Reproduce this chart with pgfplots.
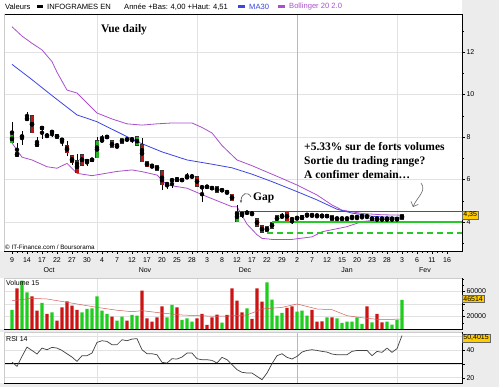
\documentclass[border=0pt]{standalone}
\usepackage{pgfplots}
\pgfplotsset{compat=1.18}
\usepackage{pgfplotstable}
\usetikzlibrary{arrows.meta}
\usepackage{fontspec}
\setmainfont{Liberation Sans}
\newfontfamily\annot{Liberation Serif}
\definecolor{cgreen}{RGB}{40,175,40}
\definecolor{cred}{RGB}{190,20,20}
\definecolor{vgreen}{RGB}{30,205,30}
\definecolor{vred}{RGB}{205,20,20}
\definecolor{mablue}{RGB}{60,70,225}
\definecolor{bollp}{RGB}{170,80,205}
\definecolor{bggrey}{RGB}{236,236,236}
\definecolor{gridc}{RGB}{226,226,226}
\definecolor{boxy}{RGB}{255,204,0}
\definecolor{hred}{RGB}{215,30,30}
\definecolor{hgreen}{RGB}{40,200,40}
\definecolor{vmac}{RGB}{215,90,90}

\pgfplotstableread{
i o h l c
0 7.73 8.72 7.70 8.09
2 8.00 8.28 7.62 8.05
5 7.55 8.00 7.53 7.73
7 8.04 8.18 7.98 8.06
9 7.94 8.15 7.92 8.13
16 6.85 7.03 6.83 7.00
17 7.03 8.01 7.00 7.81
18 7.83 8.10 7.80 7.84
22 7.70 7.96 7.68 7.94
24 7.89 8.01 7.70 7.90
25 7.62 8.02 7.60 8.00
31 5.78 5.90 5.55 5.79
32 5.96 6.00 5.58 5.98
34 5.97 6.05 5.90 5.98
35 6.05 6.29 6.03 6.16
36 6.13 6.25 6.05 6.14
42 5.49 5.55 5.45 5.50
45 4.01 4.80 3.98 4.48
47 4.43 4.50 4.38 4.44
51 3.54 3.80 3.50 3.78
52 3.72 3.99 3.70 3.97
53 4.06 4.30 4.04 4.28
54 4.25 4.40 4.19 4.26
57 4.18 4.22 4.10 4.20
58 4.14 4.30 4.12 4.28
65 4.14 4.22 4.13 4.15
66 4.14 4.22 4.13 4.15
67 4.14 4.22 4.13 4.15
71 4.24 4.32 4.15 4.30
78 4.13 4.36 4.10 4.35
}\candG

\pgfplotstableread{
i o h l c
1 7.25 7.72 7.08 7.10
3 8.88 9.18 8.80 8.82
4 9.00 9.02 8.18 8.20
6 8.47 8.50 7.90 8.38
8 8.26 8.27 8.00 8.22
10 7.94 7.96 7.58 7.80
11 7.58 7.83 7.10 7.26
12 7.10 7.12 6.68 6.79
13 6.87 7.18 6.30 6.32
14 7.18 7.20 6.66 6.68
15 6.95 6.97 6.64 6.79
19 8.02 8.05 7.96 7.98
20 7.81 7.83 7.48 7.50
21 7.56 7.70 7.53 7.55
23 7.94 7.96 7.81 7.83
26 7.62 7.94 6.82 6.84
27 6.84 6.86 6.58 6.60
28 6.65 6.75 6.55 6.58
29 6.64 6.66 6.43 6.45
30 6.41 6.43 5.50 5.75
33 6.08 6.10 5.88 5.90
37 6.13 6.15 5.67 5.69
38 5.64 5.66 4.96 5.63
39 5.68 5.70 5.60 5.64
40 5.62 5.64 5.55 5.57
41 5.66 5.68 5.38 5.40
43 5.42 5.45 5.30 5.40
44 5.30 5.32 4.98 5.00
46 4.48 4.50 4.18 4.28
48 4.42 4.44 4.30 4.38
49 4.14 4.16 3.79 3.81
50 3.81 3.83 3.51 3.53
55 4.48 4.50 4.04 4.06
56 4.14 4.16 3.90 4.13
59 4.34 4.35 4.25 4.33
60 4.33 4.34 4.24 4.32
61 4.31 4.32 4.22 4.30
62 4.30 4.31 4.22 4.29
63 4.30 4.31 4.25 4.26
64 4.28 4.29 4.08 4.09
68 4.24 4.25 4.12 4.23
69 4.24 4.25 4.12 4.23
70 4.28 4.29 4.15 4.27
72 4.22 4.23 4.08 4.09
73 4.16 4.17 4.05 4.15
74 4.16 4.17 4.05 4.15
75 4.16 4.17 4.05 4.15
76 4.16 4.17 4.05 4.15
77 4.15 4.16 4.08 4.14
}\candR

\pgfplotstableread{
i v
0 30400
2 77300
3 58600
6 41600
8 26700
14 26700
15 32000
16 33000
17 52200
18 29300
19 24000
21 13300
22 19700
24 22400
25 21300
31 18700
32 38400
34 14400
35 17000
36 11700
42 10000
47 33000
51 74600
52 46900
53 21300
54 25600
57 27700
58 29300
59 21300
63 18700
65 17000
66 9600
67 11700
68 11700
69 18700
70 8000
72 10700
75 11700
76 7000
77 14400
78 46514
}\volG

\pgfplotstableread{
i v
1 65000
4 52200
5 29300
7 24000
9 13300
10 34600
11 44200
12 37300
13 30400
20 19700
23 13300
26 61300
27 17000
28 11700
29 18700
30 36200
33 34600
37 17000
38 24000
39 6400
40 18700
41 22900
43 22400
44 65000
45 45300
46 26700
48 16000
49 65000
50 43700
55 33600
56 36200
60 30400
61 11700
62 12300
64 18700
71 36200
73 24000
74 10700
}\volR

\pgfplotstableread{
i r
0 31.3
1 28.2
2 35.4
3 42.1
4 39.7
5 37.1
6 41.4
7 40.2
8 41.9
9 41.4
10 39.7
11 37.3
12 34.9
13 31.8
14 35.9
15 35.9
16 37.8
17 45.5
18 46.7
19 46.2
20 43.8
21 43.8
22 47.4
23 46.7
24 47.9
25 48.2
26 40.2
27 37.3
28 37.3
29 36.6
30 31.1
31 30.6
32 33.7
33 33.5
34 34.9
35 37.8
36 37.8
37 33.7
38 33.0
39 33.0
40 32.5
41 30.6
42 34.7
43 33.0
44 29.4
45 25.8
46 23.9
47 23.4
48 23.4
49 21.0
50 18.6
51 23.4
52 30.1
53 35.9
54 37.3
55 34.7
56 33.5
57 35.4
58 38.5
59 39.7
60 40.2
61 39.7
62 39.0
63 38.5
64 37.1
65 36.6
66 36.6
67 36.6
68 39.0
69 39.7
70 39.7
71 39.7
72 35.9
73 39.0
74 38.3
75 41.4
76 38.3
77 41.0
78 50.4
}\rsi

\pgfplotsset{
  panel/.style={scale only axis, anchor=south west, width=458pt,
    xmin=-1.6, xmax=90, axis line style={draw=none},
    tick align=outside, major tick length=3pt, minor tick length=2pt,
    tick style={black, line width=0.4pt},
    ytick pos=right, yticklabel pos=right,
    ticklabel style={font=\fontsize{7}{8}\selectfont},
    yticklabel style={xshift=-2pt},
    scaled y ticks=false,
    /pgf/number format/assume math mode=true,
    ymajorgrids, grid style={gridc, line width=0.5pt},
    extra x ticks={17,37,77}, extra x tick labels={},
    extra x tick style={xmajorgrids=true, ymajorgrids=false, major tick length=0pt, grid style={gridc, line width=0.6pt}},
  },
  wick/.style={only marks, mark=none, forget plot,
    error bars/.cd, y dir=both, y explicit, error mark=none,
    error bar style={draw=black, line width=0.8pt, solid}},
  body/.style={only marks, mark=none, forget plot,
    error bars/.cd, y dir=both, y explicit, error mark=none,
    error bar style={draw=#1, line width=3.0pt, solid}},
  bodyo/.style={only marks, mark=none, forget plot,
    error bars/.cd, y dir=both, y explicit, error mark=none,
    error bar style={draw=black!80, line width=4.3pt, solid}},
}

\begin{document}
\begin{tikzpicture}
\useasboundingbox (0pt,0pt) rectangle (499pt,387pt);
\begin{scope}[x=1pt,y=1pt]
\fill[bggrey] (0,0) rectangle (499,387);
\fill[white] (0,136) rectangle (462,387);
\fill[white] (0,58) rectangle (462,109);
\fill[white] (0,4) rectangle (462,55);
\end{scope}

% ---------- main price panel ----------
\begin{axis}[panel, at={(4pt,136pt)}, height=237pt,
  ymin=2.635, ymax=13.79,
  xtick={0,3,...,87},
  xticklabels={9,14,17,22,27,30,4,7,12,17,20,25,28,3,8,12,17,22,29,2,7,12,15,20,23,28,3,6,11,16},
  minor x tick num=2, xtick pos=bottom,
  ytick={4,6,...,12}, minor ytick={3,5,...,13},
]
\draw[gray!55, line width=0.7pt] (axis cs:57,2.635) -- (axis cs:57,13.79);
% Bollinger bands
\addplot[bollp, line width=0.8pt] coordinates {
(0,13.19) (2,12.75) (4,12.41) (6,12.10) (8,11.55) (9,11.05) (11,10.21) (13,10.07) (15,9.6) (17,9.13)
(20,8.85) (23,8.62) (26,8.56) (29,8.62) (32,8.66) (36,8.66) (38,8.45) (40,8.19) (42,7.6) (45,6.92)
(48,6.65) (50,6.45) (54,6.05) (57,5.74) (61,5.27) (64,4.8) (66,4.56) (70,4.40) (74,4.34) (78,4.32)};
\addplot[bollp, line width=0.8pt] coordinates {
(0,7.72) (2,7.05) (4,6.92) (7,6.6) (9,6.53) (11,6.76) (13,6.29) (16,6.18) (18,6.26) (21,6.38)
(24,6.45) (26,6.37) (29,6.21) (31,5.74) (35,5.59) (39,5.19) (44,4.72) (45,4.72) (47,3.9) (49,3.4)
(50,3.23) (52,3.18) (56,3.18) (60,3.3) (62,3.54) (67,3.78) (70,4.02) (74,4.12) (78,4.15)};
% MA30
\addplot[mablue, line width=0.8pt] coordinates {
(0,11.42) (4,10.7) (8,9.95) (13,9.04) (17,8.72) (21,8.25) (25,7.78) (30,7.3) (35,6.92) (40,6.72)
(44,6.55) (48,6.25) (52,5.9) (57,5.43) (61,5.04) (65,4.6) (68,4.42) (72,4.27) (75,4.23) (78,4.22)};
% candles
\addplot[wick] table[x=i, y expr={(\thisrow{h}+\thisrow{l})/2}, y error expr={(\thisrow{h}-\thisrow{l})/2}] \candG;
\addplot[wick] table[x=i, y expr={(\thisrow{h}+\thisrow{l})/2}, y error expr={(\thisrow{h}-\thisrow{l})/2}] \candR;
\addplot[bodyo] table[x=i, y expr={(\thisrow{o}+\thisrow{c})/2}, y error expr={abs(\thisrow{o}-\thisrow{c})/2+0.03}] \candG;
\addplot[bodyo] table[x=i, y expr={(\thisrow{o}+\thisrow{c})/2}, y error expr={abs(\thisrow{o}-\thisrow{c})/2+0.03}] \candR;
\addplot[body=cgreen] table[x=i, y expr={(\thisrow{o}+\thisrow{c})/2}, y error expr={max(abs(\thisrow{o}-\thisrow{c})/2-0.005,0)}] \candG;
\addplot[body=cred] table[x=i, y expr={(\thisrow{o}+\thisrow{c})/2}, y error expr={max(abs(\thisrow{o}-\thisrow{c})/2-0.005,0)}] \candR;
% support / resistance lines
\addplot[hred, line width=1.3pt] coordinates {(44.6,4.51) (90,4.51)};
\addplot[hgreen, line width=1.3pt] coordinates {(52,4.00) (90,4.00)};
\addplot[hgreen, line width=1.3pt, dash pattern=on 6pt off 4pt] coordinates {(51,3.48) (90,3.48)};
\end{axis}

% ---------- volume panel ----------
\begin{axis}[panel, at={(4pt,58pt)}, height=51pt,
  ymin=0, ymax=81600, xtick=\empty,
  ytick={20000,40000,60000}, yticklabels={20000,,60000},
  minor ytick={10000,30000,50000,70000,80000},
]
\draw[gray!55, line width=0.7pt] (axis cs:57,0) -- (axis cs:57,81600);
\addplot[ybar, bar width=3.4pt, bar shift=0pt, fill=vgreen, draw=none] table[x=i, y=v] \volG;
\addplot[ybar, bar width=3.4pt, bar shift=0pt, fill=vred, draw=none] table[x=i, y=v] \volR;
\addplot[vmac, line width=0.5pt] coordinates {
(0,45300) (4,49000) (7,48000) (10,44000) (13,40000) (17,34600) (21,30000) (24,27700) (26,29300) (30,25500)
(34,22400) (38,21000) (41,20300) (44,21000) (47,22400) (50,32000) (54,34600) (57,40000) (59,36000)
(61,32000) (64,30900) (67,21300) (71,17000) (74,14900) (78,16000)};
\end{axis}

% ---------- RSI panel ----------
\begin{axis}[panel, at={(4pt,4pt)}, height=51pt,
  ymin=16.2, ymax=53.0, xtick=\empty,
  ytick={20,30,40,50}, yticklabels={20,,40,},
]
\draw[gray!55, line width=0.7pt] (axis cs:57,16.2) -- (axis cs:57,53);
\addplot[black, line width=0.8pt] coordinates {(-1.6,30) (90,30)};
\addplot[black!75, line width=0.7pt] table[x=i, y=r] \rsi;
\end{axis}

\begin{scope}[x=1pt,y=1pt]
% frames
\draw[black, line width=0.6pt] (4,373) -- (462,373) -- (462,136) -- (4,136);
\draw[gray!40, line width=0.5pt] (4,373) -- (4,136);
\draw[gray!40, line width=0.5pt] (4,109) -- (462,109);
\draw[black, line width=0.6pt] (462,109) -- (462,58) -- (4,58);
\draw[gray!40, line width=0.5pt] (4,109) -- (4,58);
\draw[gray!40, line width=0.5pt] (4,55) -- (462,55);
\draw[black, line width=0.6pt] (462,55) -- (462,4) -- (4,4);
\draw[gray!40, line width=0.5pt] (4,55) -- (4,4);

% legend strip
\begin{scope}[font=\fontsize{7.6}{8}\selectfont]
\node[anchor=west, inner sep=0] at (5,380.3) {Valeurs};
\fill[black] (36.5,379.3) rectangle (43,381.5);
\node[anchor=west, inner sep=0] at (47,380.3) {INFOGRAMES EN};
\node[anchor=west, inner sep=0] at (124,380.3) {Année +Bas: 4,00 +Haut: 4,51};
\fill[mablue] (238,379.3) rectangle (245,381.5);
\node[anchor=west, inner sep=0, text=mablue] at (249,380.3) {MA30};
\fill[bollp] (278,379.3) rectangle (285,381.5);
\node[anchor=west, inner sep=0, text=bollp] at (289,380.3) {Bollinger 20 2.0};
\end{scope}

% date month labels
\begin{scope}[font=\fontsize{7}{8}\selectfont]
\node at (49,116.5) {Oct};
\node at (145,116.5) {Nov};
\node at (245,116.5) {Dec};
\node at (347,116.5) {Jan};
\node at (425,116.5) {Fev};
\end{scope}

% panel captions
\node[anchor=west, inner sep=0, font=\fontsize{6.3}{7}\selectfont] at (5,139.5) {© IT-Finance.com / Boursorama};
\node[anchor=west, inner sep=0, font=\fontsize{7}{8}\selectfont] at (6,104) {Volume 15};
\node[anchor=west, inner sep=0, font=\fontsize{7}{8}\selectfont] at (6,48) {RSI 14};

% value boxes
\node[fill=boxy, draw=black!60, line width=0.4pt, inner sep=1.2pt, anchor=west, font=\fontsize{7}{8}\selectfont] at (462,172) {4,35};
\node[fill=boxy, draw=black!60, line width=0.4pt, inner sep=1.2pt, anchor=west, font=\fontsize{7}{8}\selectfont] at (462,88) {46514};
\node[fill=boxy, draw=black!60, line width=0.4pt, inner sep=1.2pt, anchor=west, font=\fontsize{7}{8}\selectfont] at (462,49) {50,4015};

% annotations
\begin{scope}[font=\annot\bfseries\fontsize{11.5}{13}\selectfont]
\node at (124,357) {Vue daily};
\node[anchor=west, inner sep=0] at (304,240) {+5.33\% sur de forts volumes};
\node[anchor=west, inner sep=0] at (304,225) {Sortie du trading range?};
\node[anchor=west, inner sep=0] at (304,212) {A confimer demain\dots};
\node[anchor=west, inner sep=0] at (253,189) {Gap};
\end{scope}
\draw[black!70, line width=0.6pt, -{Stealth[length=3pt]}] (251,190) .. controls (248,196) and (241,194) .. (241,184);
\draw[black!60, line width=0.6pt, -{Straight Barb[length=4pt]}] (421,204) .. controls (427,196) and (417,190) .. (413,180);
\end{scope}
\end{tikzpicture}
\end{document}
